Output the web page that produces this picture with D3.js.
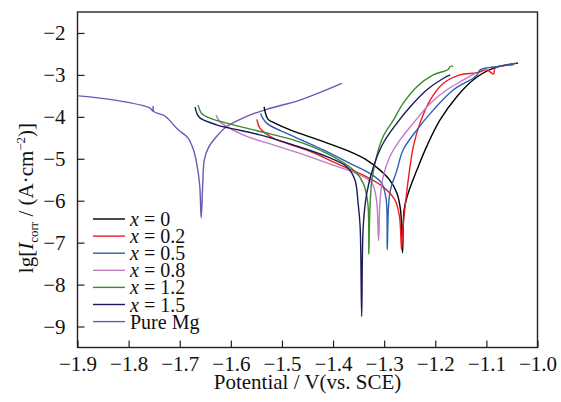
<!DOCTYPE html>
<html>
<head>
<meta charset="utf-8">
<script src="https://cdn.jsdelivr.net/npm/d3@7"></script>
<style>
  body { margin: 0; background: #fff; }
  text { font-family: "Liberation Serif", "Times New Roman", serif; }
</style>
</head>
<body>
<svg id="chart" width="561" height="402"></svg>
<script>
// Tafel curves, [potential V vs SCE, lg I]
const pureMg = [[-1.898,-3.50],[-1.827,-3.60],[-1.758,-3.79],[-1.753,-3.86],[-1.752,-3.75],[-1.751,-3.87],
  [-1.729,-3.98],[-1.703,-4.31],[-1.684,-4.50],[-1.673,-4.79],[-1.667,-5.10],[-1.661,-5.62],[-1.658,-6.41],
  [-1.655,-5.62],[-1.652,-5.03],[-1.644,-4.74],[-1.628,-4.47],[-1.608,-4.23],[-1.569,-3.99],[-1.530,-3.82],
  [-1.465,-3.60],[-1.383,-3.20]];
const x0 = [[-1.535,-3.76],[-1.531,-3.96],[-1.527,-4.06],[-1.514,-4.15],[-1.484,-4.31],[-1.419,-4.59],
  [-1.367,-4.83],[-1.334,-5.03],[-1.308,-5.27],[-1.289,-5.51],[-1.275,-5.82],[-1.268,-6.22],[-1.264,-7.24],
  [-1.261,-6.22],[-1.253,-5.82],[-1.236,-5.27],[-1.217,-4.71],[-1.191,-4.08],[-1.158,-3.52],[-1.126,-3.12],
  [-1.086,-2.84],[-1.038,-2.72]];
const x02 = [[-1.549,-4.06],[-1.543,-4.27],[-1.517,-4.51],[-1.452,-4.79],[-1.386,-5.15],[-1.334,-5.43],
  [-1.302,-5.67],[-1.279,-5.98],[-1.270,-6.38],[-1.266,-7.17],[-1.263,-6.62],[-1.259,-6.14],[-1.253,-5.51],
  [-1.243,-4.71],[-1.230,-4.15],[-1.210,-3.60],[-1.184,-3.20],[-1.152,-3.00],[-1.119,-2.95],[-1.099,-2.88],
  [-1.086,-2.98],[-1.083,-2.84],[-1.047,-2.76]];
const x05 = [[-1.542,-3.92],[-1.530,-4.15],[-1.484,-4.43],[-1.419,-4.79],[-1.367,-5.11],[-1.328,-5.35],
  [-1.305,-5.58],[-1.296,-5.98],[-1.294,-7.17],[-1.289,-5.82],[-1.275,-5.27],[-1.263,-4.79],[-1.236,-4.31],
  [-1.204,-3.84],[-1.165,-3.36],[-1.126,-3.08],[-1.118,-3.00],[-1.112,-2.88],[-1.073,-2.79],[-1.041,-2.72]];
const x08 = [[-1.629,-3.96],[-1.625,-4.05],[-1.621,-4.12],[-1.576,-4.43],[-1.517,-4.67],[-1.465,-4.87],
  [-1.400,-5.15],[-1.347,-5.39],[-1.324,-5.58],[-1.315,-5.98],[-1.311,-6.95],[-1.308,-5.98],[-1.302,-5.43],
  [-1.289,-4.95],[-1.269,-4.55],[-1.243,-4.15],[-1.210,-3.68],[-1.178,-3.36],[-1.145,-3.12],[-1.120,-2.95]];
const x12 = [[-1.664,-3.72],[-1.657,-3.92],[-1.641,-4.03],[-1.608,-4.15],[-1.543,-4.35],[-1.478,-4.55],
  [-1.412,-4.87],[-1.360,-5.27],[-1.341,-5.58],[-1.332,-6.06],[-1.330,-7.27],[-1.328,-6.22],[-1.324,-5.51],
  [-1.315,-4.95],[-1.302,-4.47],[-1.282,-4.08],[-1.263,-3.68],[-1.236,-3.28],[-1.204,-3.00],[-1.175,-2.87],
  [-1.171,-2.80],[-1.165,-2.79]];
const x15 = [[-1.670,-3.77],[-1.666,-3.93],[-1.660,-4.03],[-1.628,-4.19],[-1.602,-4.27],[-1.543,-4.43],
  [-1.478,-4.67],[-1.412,-4.95],[-1.373,-5.19],[-1.357,-5.51],[-1.351,-6.06],[-1.347,-6.62],[-1.344,-8.76],
  [-1.341,-6.62],[-1.334,-5.82],[-1.321,-5.19],[-1.302,-4.63],[-1.275,-4.15],[-1.249,-3.76],[-1.217,-3.36],
  [-1.184,-3.08],[-1.171,-3.00]];

const legendNames = ["0", "0.2", "0.5", "0.8", "1.2", "1.5", "Pure Mg"];
const curves = [x0, x02, x05, x08, x12, x15, pureMg];
const colors = ["#000000", "#ee1c24", "#2b5fb4", "#c27ac4", "#3b8a2a", "#1b1b5c", "#6a58b4"];
const xTicks = [-1.9, -1.8, -1.7, -1.6, -1.5, -1.4, -1.3, -1.2, -1.1, -1.0];
const yTicks = [-2, -3, -4, -5, -6, -7, -8, -9];

let svg = d3.select("#chart");
let plotLeft = 77.5, plotRight = 537.5, plotTop = 12, plotBottom = 347.5;

let x = d3.scaleLinear().domain([-1.9, -1.0]).range([plotLeft, plotRight]);
let y = d3.scaleLinear().domain([-9.5, -1.5]).range([plotBottom, plotTop]);

let line = d3.line()
    .x(function (d) { return x(d[0]); })
    .y(function (d) { return y(d[1]); })
    .curve(d3.curveCatmullRom.alpha(0.5));

// draw pure Mg first so the alloys sit on top of it
let order = [6, 0, 1, 2, 3, 4, 5];
order.forEach(function (i) {
    svg.append("path")
        .attr("d", line(curves[i]))
        .attr("fill", "none")
        .attr("stroke", colors[i])
        .attr("stroke-width", 1.4)
        .attr("stroke-linejoin", "round");
});

// axes, ticks point inward
let gx = svg.append("g")
    .attr("transform", "translate(0," + plotBottom + ")")
    .call(d3.axisBottom(x).tickValues(xTicks).tickSize(-7).tickPadding(9).tickFormat(d3.format(".1f")));
let gy = svg.append("g")
    .attr("transform", "translate(" + plotLeft + ",0)")
    .call(d3.axisLeft(y).tickValues(yTicks).tickSize(-7).tickPadding(12).tickFormat(d3.format("d")));

[gx, gy].forEach(function (g) {
    g.attr("font-family", null);
    g.select(".domain").remove();
    g.selectAll("line").attr("stroke", "#222").attr("stroke-width", 1.2);
    g.selectAll("text")
        .attr("fill", "#111")
        .style("font-family", "'Liberation Serif', serif")
        .style("font-size", "21px");
});

svg.append("rect")
    .attr("x", plotLeft).attr("y", plotTop)
    .attr("width", plotRight - plotLeft).attr("height", plotBottom - plotTop)
    .attr("fill", "none")
    .attr("stroke", "#222")
    .attr("stroke-width", 1.4);

// axis titles
svg.append("text")
    .attr("x", (plotLeft + plotRight) / 2)
    .attr("y", 389)
    .attr("text-anchor", "middle")
    .attr("fill", "#111")
    .style("font-size", "21px")
    .text("Potential / V(vs. SCE)");

let yt = svg.append("text")
    .attr("transform", "translate(33,198) rotate(-90)")
    .attr("text-anchor", "middle")
    .attr("fill", "#111")
    .style("font-size", "21px");
yt.append("tspan").text("lg[");
yt.append("tspan").style("font-style", "italic").text("I");
yt.append("tspan").attr("dy", 5).style("font-size", "13px").text("corr");
yt.append("tspan").attr("dy", -5).text(" / (A·cm");
yt.append("tspan").attr("dy", -8).style("font-size", "13px").text("−2");
yt.append("tspan").attr("dy", 8).text(")]");

// legend
let legend = svg.append("g");
legendNames.forEach(function (name, i) {
    let ly = 219 + i * 17.1;
    legend.append("line")
        .attr("x1", 93).attr("x2", 125)
        .attr("y1", ly).attr("y2", ly)
        .attr("stroke", colors[i])
        .attr("stroke-width", 1.4);
    let t = legend.append("text")
        .attr("x", 130)
        .attr("y", ly + 7)
        .attr("fill", "#111")
        .style("font-size", "20px");
    if (name === "Pure Mg") {
        t.text(name);
    } else {
        t.append("tspan").style("font-style", "italic").text("x");
        t.append("tspan").text(" = " + name);
    }
});
</script>
</body>
</html>
